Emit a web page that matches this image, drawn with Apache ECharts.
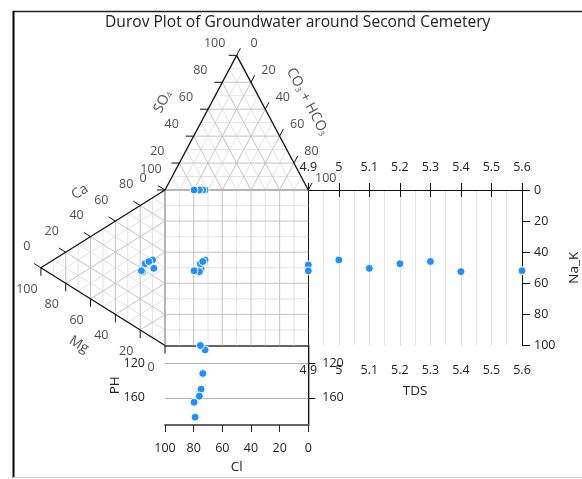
<!DOCTYPE html>
<html><head><meta charset="utf-8">
<script src="https://cdn.jsdelivr.net/npm/echarts@6/dist/echarts.min.js"></script>
<style>html,body{margin:0;padding:0;background:#fff}#c{width:582px;height:479px}</style>
</head><body><div id="c"></div>
<script>
// ---------------- data (per sample) ----------------
const sampleIds = ['S1','S2','S3','S4','S5','S6','S7','S8'];
const ca   = [43.8, 39.0, 50.0, 45.1, 44.6, 47.5, 38.5, 38.6];
const mg   = [16, 18, 10, 9, 16, 13, 18, 19];
const nak  = [40.2, 43.0, 40.0, 45.9, 39.4, 39.5, 43.5, 42.4];
const so4  = [0, 0, 0, 0, 0, 0, 0, 0];
const hco3 = [24.5, 21.0, 28.0, 25.2, 24.7, 26.4, 24.0, 20.3];
const cl   = [75.5, 79.0, 72.0, 74.8, 75.3, 73.6, 76.0, 79.7];
const tds  = [4.9, 4.9, 5.0, 5.1, 5.2, 5.3, 5.4, 5.6];
const ph   = [153, 182, 105, 150, 100, 132, 158, 165];
// tick labels
const ternaryTicks = [0, 20, 40, 60, 80, 100];
const tdsRange = [4.9, 5.6];
const phRange = [100, 191];
const phLabels = [120, 160];

// ---------------- geometry helpers ----------------
const FONT = 'Open Sans';
const TXT = '#222';
const LFS = 12.5;
const H = Math.sqrt(3) / 2 * 100;
const SX = 143.3 / 100, SY = 155.5 / 100;   // px per unit
function topPt(s, c, l) { const t = s + c + l; return [(c + s / 2) / t * 100, s / t * H]; }
function leftPt(a, m, n) { const t = a + m + n; return [-m / t * H, -(m * 50 + n * 100) / t]; }
function shiftPx(p, dx, dy) { return [p[0] + dx / SX, p[1] - dy / SY]; }

const minor = [], major = [];
for (let k = 10; k < 100; k += 10) {
  const arr = (k % 20 === 0) ? major : minor;
  arr.push([...topPt(k, 0, 100 - k), ...topPt(k, 100 - k, 0)]);
  arr.push([...topPt(0, k, 100 - k), ...topPt(100 - k, k, 0)]);
  arr.push([...topPt(0, 100 - k, k), ...topPt(100 - k, 0, k)]);
  arr.push([...leftPt(k, 100 - k, 0), ...leftPt(k, 0, 100 - k)]);
  arr.push([...leftPt(100 - k, k, 0), ...leftPt(0, k, 100 - k)]);
  arr.push([...leftPt(100 - k, 0, k), ...leftPt(0, 100 - k, k)]);
  arr.push([k, 0, k, -100]);
  arr.push([0, -k, 100, -k]);
}
const edgesGray = [[0, 0, 100, 0], [0, 0, 0, -100]];
const edgesBlack = [
  [...topPt(0, 0, 100), ...topPt(100, 0, 0)],
  [...topPt(100, 0, 0), ...topPt(0, 100, 0)],
  [...leftPt(0, 100, 0), ...leftPt(100, 0, 0)],
  [...leftPt(0, 100, 0), ...leftPt(0, 0, 100)]
];
const ticks = [];
function addTick(p, dx, dy) { ticks.push([p[0], p[1], p[0] + dx, p[1] + dy]); }
ternaryTicks.forEach(k => {
  addTick(topPt(k, 0, 100 - k), -8 / SX, 0);
  const tc = 8 / Math.hypot(0.5 * SX, 0.866 * SY);
  addTick(topPt(100 - k, k, 0), 0.5 * tc, 0.866 * tc);
  const ta = 8 / Math.hypot(0.866 * SX, 0.5 * SY);
  addTick(leftPt(k, 100 - k, 0), -0.866 * ta, 0.5 * ta);
  addTick(leftPt(0, k, 100 - k), 0, -8 / SY);
});

function segSeries(name, data, color, width, z) {
  return {
    type: 'custom', name, xAxisIndex: 0, yAxisIndex: 0, z, silent: true, clip: false,
    dimensions: ['x1', 'y1', 'x2', 'y2'], encode: { x: [0, 2], y: [1, 3] },
    data,
    renderItem: (params, api) => {
      const a = api.coord([api.value(0), api.value(1)]);
      const b = api.coord([api.value(2), api.value(3)]);
      return { type: 'line', shape: { x1: a[0], y1: a[1], x2: b[0], y2: b[1] },
               style: { stroke: color, lineWidth: width } };
    }
  };
}
function labelSeries(name, pts, texts, offset, extra) {
  return {
    type: 'scatter', name, xAxisIndex: 0, yAxisIndex: 0, symbolSize: 0, silent: true, z: 6, clip: false,
    data: pts.map((p, i) => ({ value: shiftPx(p, offset[0], offset[1]), name: String(texts[i]) })),
    label: Object.assign({ show: true, position: 'inside', formatter: p => p.name,
                           color: TXT, fontSize: LFS, fontFamily: FONT }, extra || {}),
    labelLayout: { hideOverlap: false }
  };
}

// sample positions
const topPts = sampleIds.map((_, i) => topPt(so4[i], hco3[i], cl[i]));
const leftPts = sampleIds.map((_, i) => leftPt(ca[i], mg[i], nak[i]));
const sqPts = sampleIds.map((_, i) => [topPts[i][0], leftPts[i][1]]);
const tdsPts = sampleIds.map((_, i) => [tds[i], -leftPts[i][1]]);
const phPts = sampleIds.map((_, i) => [cl[i], ph[i]]);

const ptStyle = { color: '#1E90FF', borderColor: '#fff', borderWidth: 1, opacity: 1 };
const titleRich = { s: { fontSize: 8, fontFamily: FONT, color: TXT, verticalAlign: 'bottom', lineHeight: 14 } };
const nameStyle = { color: TXT, fontSize: 13.5, fontFamily: FONT };
const lab = { color: TXT, fontSize: LFS, fontFamily: FONT };

const option = {
  animation: false,
  backgroundColor: '#fff',
  title: {
    text: 'Durov Plot of Groundwater around Second Cemetery',
    left: 100, top: 10,
    textStyle: { fontFamily: FONT, fontSize: 15.6, fontWeight: 'normal', color: TXT }
  },
  graphic: [
    { type: 'line', shape: { x1: 13, y1: 11.5, x2: 582, y2: 11.5 }, style: { stroke: '#222', lineWidth: 1.5 } },
    { type: 'line', shape: { x1: 13.5, y1: 11, x2: 13.5, y2: 478 }, style: { stroke: '#000', lineWidth: 2 } },
    { type: 'line', shape: { x1: 13, y1: 477.5, x2: 582, y2: 477.5 }, style: { stroke: '#c8c8c8', lineWidth: 1 } }
  ],
  grid: [
    { left: 165 - H * SX, top: 190 - H * SY, width: (100 + H) * SX, height: (100 + H) * SY },
    { left: 308.3, top: 190, width: 215.7, height: 155.5 },
    { left: 165, top: 345.5, width: 143.3, height: 79.5 }
  ],
  xAxis: [
    { gridIndex: 0, type: 'value', min: -H, max: 100, show: false },
    { gridIndex: 1, type: 'value', position: 'top', min: tdsRange[0], max: tdsRange[1], interval: 0.1,
      axisLine: { lineStyle: { color: '#111', width: 1 } },
      axisTick: { length: 7, lineStyle: { color: '#111' } },
      axisLabel: Object.assign({ margin: 16 }, lab),
      splitLine: { show: true, lineStyle: { color: '#dadada' } },
      minorTick: { show: false, splitNumber: 2 },
      minorSplitLine: { show: true, lineStyle: { color: '#e4e4e4' } } },
    { gridIndex: 1, type: 'value', position: 'bottom', min: tdsRange[0], max: tdsRange[1], interval: 0.1,
      name: 'TDS', nameLocation: 'middle', nameGap: 39, nameTextStyle: nameStyle, nameMoveOverlap: false,
      axisLine: { lineStyle: { color: '#111', width: 1 } },
      axisTick: { length: 7, lineStyle: { color: '#111' } },
      axisLabel: Object.assign({ margin: 18 }, lab),
      splitLine: { show: false } },
    { gridIndex: 2, type: 'value', position: 'bottom', min: 0, max: 100, interval: 20, inverse: true,
      name: 'Cl', nameLocation: 'middle', nameGap: 35, nameTextStyle: nameStyle, nameMoveOverlap: false,
      axisLine: { lineStyle: { color: '#666', width: 2 } },
      axisTick: { length: 7, lineStyle: { color: '#222' } },
      axisLabel: Object.assign({ margin: 17 }, lab),
      splitLine: { show: false } },
    { gridIndex: 2, type: 'value', position: 'top', min: 0, max: 100, inverse: true,
      axisLine: { lineStyle: { color: '#333', width: 1.5 } },
      axisTick: { show: false }, axisLabel: { show: false }, splitLine: { show: false } }
  ],
  yAxis: [
    { gridIndex: 0, type: 'value', min: -100, max: H, show: false },
    { gridIndex: 1, type: 'value', position: 'right', min: 0, max: 100, interval: 20, inverse: true,
      name: 'Na_K', nameLocation: 'middle', nameGap: 45, nameRotate: 90, nameTextStyle: nameStyle, nameMoveOverlap: false,
      axisLine: { show: true, lineStyle: { color: '#111', width: 1 } },
      axisTick: { show: true, length: 8, lineStyle: { color: '#111' } },
      axisLabel: Object.assign({ margin: 12 }, lab),
      splitLine: { show: false } },
    { gridIndex: 1, type: 'value', position: 'left', min: 0, max: 100, inverse: true,
      axisLine: { show: true, lineStyle: { color: '#111', width: 1 } },
      axisTick: { show: false }, axisLabel: { show: false }, splitLine: { show: false } },
    { gridIndex: 2, type: 'value', position: 'left', min: phRange[0], max: phRange[1], interval: 20, inverse: true,
      name: 'PH', nameLocation: 'middle', nameGap: 43, nameRotate: 90, nameTextStyle: nameStyle, nameMoveOverlap: false,
      axisLine: { show: true, lineStyle: { color: '#aaa', width: 2 } },
      axisTick: { show: true, length: 7, customValues: phLabels, lineStyle: { color: '#222' } },
      axisLabel: Object.assign({ margin: 20, customValues: phLabels }, lab),
      splitLine: { show: true, lineStyle: { color: '#dcdcdc' } } },
    { gridIndex: 2, type: 'value', position: 'right', min: phRange[0], max: phRange[1], interval: 20, inverse: true,
      axisLine: { show: true, lineStyle: { color: '#111', width: 1 } },
      axisTick: { show: true, length: 7, customValues: phLabels, lineStyle: { color: '#111' } },
      axisLabel: Object.assign({ margin: 14, customValues: phLabels }, lab),
      splitLine: { show: false } }
  ],
  series: [
    segSeries('minor', minor, '#e3e3e3', 1, 1),
    segSeries('major', major, '#c3c3c3', 1, 2),
    segSeries('edgesGray', edgesGray, '#b4b4b4', 2, 3),
    segSeries('edgesBlack', edgesBlack, '#111', 1.3, 4),
    segSeries('ticks', ticks, '#111', 1, 4),
    labelSeries('so4Labels', ternaryTicks.map(k => topPt(k, 0, 100 - k)), ternaryTicks, [-22, -12]),
    labelSeries('co3Labels', ternaryTicks.map(k => topPt(100 - k, k, 0)), ternaryTicks, [17.5, -12]),
    labelSeries('caLabels', ternaryTicks.map(k => leftPt(k, 100 - k, 0)), ternaryTicks, [-14, -21]),
    labelSeries('mgLabels', ternaryTicks.map(k => leftPt(0, k, 100 - k)), ternaryTicks, [-14, 21.5]),
    labelSeries('so4Title', [topPt(50, 0, 50)], ['SO{s|4}'], [-38, -21], { rotate: 62, fontSize: 14, rich: titleRich }),
    labelSeries('co3Title', [topPt(50, 50, 0)], ['CO{s|3} + HCO{s|3}'], [35, -21], { rotate: -62, fontSize: 14, rich: titleRich }),
    labelSeries('caTitle', [leftPt(50, 50, 0)], ['Ca'], [-23, -37], { rotate: 32, fontSize: 14 }),
    labelSeries('mgTitle', [leftPt(0, 50, 50)], ['Mg'], [-24, 38], { rotate: -32, fontSize: 14 }),
    { type: 'scatter', name: 'anions', xAxisIndex: 0, yAxisIndex: 0, z: 10, symbolSize: 8, itemStyle: ptStyle, data: topPts },
    { type: 'scatter', name: 'cations', xAxisIndex: 0, yAxisIndex: 0, z: 10, symbolSize: 8, itemStyle: ptStyle, data: leftPts },
    { type: 'scatter', name: 'square', xAxisIndex: 0, yAxisIndex: 0, z: 10, symbolSize: 8, itemStyle: ptStyle, data: sqPts },
    { type: 'scatter', name: 'TDS', xAxisIndex: 1, yAxisIndex: 1, z: 10, symbolSize: 8, itemStyle: ptStyle, data: tdsPts, clip: false },
    { type: 'scatter', name: 'PH', xAxisIndex: 3, yAxisIndex: 3, z: 10, symbolSize: 8, itemStyle: ptStyle, data: phPts, clip: false,
      markLine: { silent: true, symbol: ['none', 'none'], label: { show: false }, z: 1,
                  lineStyle: { color: '#b0b0b0', type: 'solid', width: 1 },
                  data: phLabels.map(v => ({ yAxis: v })) } }
  ]
};
const chart = echarts.init(document.getElementById('c'), null, { renderer: 'canvas' });
chart.setOption(option);
</script></body></html>
